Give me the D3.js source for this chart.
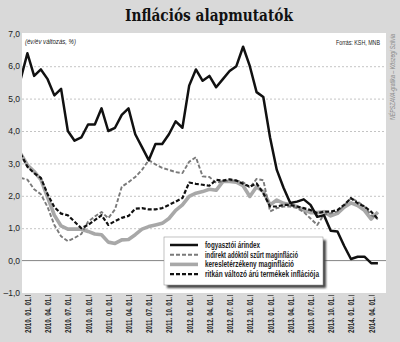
<!DOCTYPE html>
<html><head><meta charset="utf-8">
<script src="https://cdn.jsdelivr.net/npm/d3@7"></script>
<style>body{margin:0;background:#d9d9d9}svg{display:block}</style>
</head><body><svg id="c" width="400" height="342"></svg>
<script>
const months = ["2009.12",
"2010.01","2010.02","2010.03","2010.04","2010.05","2010.06","2010.07","2010.08","2010.09","2010.10","2010.11","2010.12",
"2011.01","2011.02","2011.03","2011.04","2011.05","2011.06","2011.07","2011.08","2011.09","2011.10","2011.11","2011.12",
"2012.01","2012.02","2012.03","2012.04","2012.05","2012.06","2012.07","2012.08","2012.09","2012.10","2012.11","2012.12",
"2013.01","2013.02","2013.03","2013.04","2013.05","2013.06","2013.07","2013.08","2013.09","2013.10","2013.11","2013.12",
"2014.01","2014.02","2014.03","2014.04","2014.05"];
const cpi = [5.6,
6.4,5.7,5.9,5.6,5.1,5.3,4.0,3.7,3.8,4.2,4.2,4.7,
4.0,4.1,4.5,4.7,3.9,3.5,3.1,3.6,3.6,3.9,4.3,4.1,
5.4,5.9,5.55,5.7,5.35,5.6,5.85,6.0,6.6,6.0,5.2,5.05,
3.8,2.8,2.25,1.78,1.82,1.89,1.72,1.35,1.4,0.92,0.9,0.45,
0.05,0.12,0.12,-0.08,-0.08];
const indirekt = [2.55,
2.5,2.2,2.05,1.65,1.1,0.75,0.6,0.7,0.82,1.2,1.36,1.5,
1.31,1.58,2.28,2.42,2.58,2.8,3.1,2.97,2.86,2.8,2.73,2.7,
3.05,3.19,2.6,2.58,2.4,2.45,2.47,2.47,2.42,2.25,2.52,2.48,
1.52,1.62,1.67,1.67,1.62,1.5,1.3,1.1,1.42,1.46,1.52,1.7,
1.93,1.82,1.67,1.4,1.28];
const kereslet = [3.3,
2.95,2.75,2.5,1.95,1.4,1.07,0.97,0.97,0.97,0.9,0.82,0.8,
0.57,0.53,0.64,0.65,0.8,0.97,1.05,1.1,1.15,1.3,1.55,1.72,
1.98,2.08,2.13,2.2,2.17,2.44,2.44,2.42,2.31,1.98,2.28,2.13,
1.72,1.87,1.77,1.72,1.67,1.56,1.48,1.48,1.51,1.38,1.46,1.65,
1.78,1.7,1.55,1.28,1.5];
const ritkan = [3.3,
2.9,2.7,2.55,2.05,1.65,1.45,1.4,1.2,1.0,1.1,1.25,1.4,
1.1,1.22,1.32,1.38,1.6,1.62,1.58,1.58,1.62,1.72,1.82,1.93,
2.41,2.37,2.34,2.31,2.49,2.47,2.51,2.47,2.37,2.28,2.38,2.08,
1.67,1.67,1.72,1.72,1.67,1.62,1.56,1.46,1.51,1.51,1.56,1.72,
1.93,1.77,1.67,1.51,1.28];
const seriesNames = ["fogyasztói árindex","indirekt adóktól szűrt maginfláció","keresletérzékeny maginfláció","ritkán változó árú termékek inflációja"];
const tickMonths = ["2010.01","2010.04","2010.07","2010.10","2011.01","2011.04","2011.07","2011.10","2012.01","2012.04","2012.07","2012.10","2013.01","2013.04","2013.07","2013.10","2014.01","2014.04"];
const tickLabels = ["2010. 01. 01.","2010. 04. 01.","2010. 07. 01.","2010. 10. 01.","2011. 01. 01.","2011. 04. 01.","2011. 07. 01.","2011. 10. 01.","2012. 01. 01.","2012. 04. 01.","2012. 07. 01.","2012. 10. 01.","2013. 01. 01.","2013. 04. 01.","2013. 07. 01.","2013. 10. 01.","2014. 01. 01.","2014. 04. 01."];
const yTicks = [-1,0,1,2,3,4,5,6,7];

const svg = d3.select("#c");
const L=22,R=386,T=33,B=293;
svg.append("rect").attr("width",400).attr("height",342).attr("fill","#d9d9d9");
svg.append("rect").attr("x",L).attr("y",T).attr("width",R-L).attr("height",B-T).attr("fill","#fff");

const x = d3.scaleLinear().domain([0.2, 54.2]).range([L,R]); // index in months array
const y = d3.scaleLinear().domain([-1,7]).range([B,T+0.8]);

// gridlines
const grid = svg.append("g").attr("transform",`translate(${L},0)`)
  .call(d3.axisLeft(y).tickValues([1,2,3,4,5,6]).tickSize(-(R-L)).tickFormat(""));
grid.select(".domain").remove();
grid.selectAll("line").attr("stroke","#b5b5b5").attr("stroke-width",0.8).attr("stroke-dasharray","2,2");
svg.append("line").attr("x1",L).attr("x2",R).attr("y1",y(0)).attr("y2",y(0)).attr("stroke","#777").attr("stroke-width",0.9);

// y axis labels
const fmt = v => (v<0?"\u2013":"") + Math.abs(v).toFixed(1).replace(".",",");
const ya = svg.append("g").attr("transform",`translate(${L-2},0)`)
  .call(d3.axisLeft(y).tickValues(yTicks).tickSize(0).tickPadding(0).tickFormat(fmt));
ya.select(".domain").remove();
ya.selectAll("text").attr("font-family","Liberation Sans Narrow, Liberation Sans, sans-serif").attr("font-size",8.5).attr("fill","#222");

// x axis labels
const xa = svg.append("g").attr("transform",`translate(0,${B})`)
  .call(d3.axisBottom(x).tickValues(tickMonths.map(m=>months.indexOf(m))).tickSize(0)
  .tickFormat((d,i)=>tickLabels[i]));
xa.select(".domain").remove();
xa.selectAll("text").attr("text-anchor","end").attr("transform","translate(0,4) rotate(-90)")
  .attr("x",0).attr("y",0).attr("dy","0.35em").attr("dx",0)
  .attr("font-family","Liberation Sans Narrow, Liberation Sans, sans-serif").attr("font-weight","bold")
  .attr("font-size",8.5).attr("fill","#222").attr("textLength",36).attr("lengthAdjust","spacingAndGlyphs");
xa.selectAll(".tick").append("line").attr("x1",-3).attr("x2",3).attr("y1",2.5).attr("y2",2.5).attr("stroke","#444").attr("stroke-width",0.8);

// clip
svg.append("clipPath").attr("id","clp").append("rect").attr("x",L).attr("y",T).attr("width",R-L).attr("height",B-T);
const line = d3.line().x((d,i)=>x(i)).y(d=>y(d));
const g = svg.append("g").attr("clip-path","url(#clp)");
const styles = [
  {data:kereslet, stroke:"#a8a8a8", w:3.6, dash:null},
  {data:indirekt, stroke:"#7a7a7a", w:1.9, dash:"4,2"},
  {data:ritkan, stroke:"#111", w:2.2, dash:"4,2"},
  {data:cpi, stroke:"#111", w:2.5, dash:null}
];
styles.forEach(s=>{
  g.append("path").datum(s.data).attr("d",line).attr("fill","none").attr("stroke",s.stroke)
   .attr("stroke-width",s.w).attr("stroke-dasharray",s.dash).attr("stroke-linejoin","round");
});

// texts
svg.append("text").attr("x",209).attr("y",21).attr("text-anchor","middle")
  .attr("font-family","DejaVu Serif, serif").attr("font-weight","bold").attr("font-size",16)
  .attr("textLength",168).attr("lengthAdjust","spacingAndGlyphs").attr("fill","#111").text("Inflációs alapmutatók");
svg.append("text").attr("x",25).attr("y",44).attr("font-family","Liberation Sans Narrow, Liberation Sans, sans-serif")
  .attr("font-style","italic").attr("font-size",8).attr("fill","#222").attr("textLength",51).attr("lengthAdjust","spacingAndGlyphs")
  .text("(év/év változás, %)");
svg.append("text").attr("x",380).attr("y",45).attr("text-anchor","end").attr("font-family","Liberation Sans Narrow, Liberation Sans, sans-serif")
  .attr("font-size",7).attr("fill","#222").attr("textLength",44).attr("lengthAdjust","spacingAndGlyphs").text("Forrás: KSH, MNB");
svg.append("text").attr("transform","translate(395,120) rotate(-90)").attr("font-family","Liberation Sans Narrow, Liberation Sans, sans-serif")
  .attr("font-style","italic").attr("font-size",7).attr("fill","#888").attr("textLength",86).attr("lengthAdjust","spacingAndGlyphs")
  .text("NÉPSZAVA-grafika – Kőszegi Szilvia");

// legend
const defs = svg.append("defs");
const f = defs.append("filter").attr("id","blur").attr("x","-10%").attr("y","-10%").attr("width","130%").attr("height","130%");
f.append("feGaussianBlur").attr("stdDeviation",1.2);
const lg = svg.append("g").attr("transform","translate(164,237)");
lg.append("rect").attr("x",3).attr("y",3).attr("width",159).attr("height",48).attr("fill","#444").attr("filter","url(#blur)");
lg.append("rect").attr("width",159).attr("height",48).attr("fill","#fff").attr("stroke","#999").attr("stroke-width",0.6);
const legStyles = [styles[3],styles[1],styles[0],styles[2]];
const legW = [55,93,89,114];
legStyles.forEach((s,i)=>{
  const yy = 8 + i*9.7;
  lg.append("line").attr("x1",6).attr("x2",34).attr("y1",yy).attr("y2",yy).attr("stroke",s.stroke)
    .attr("stroke-width",s.w).attr("stroke-dasharray",s.dash);
  lg.append("text").attr("x",41).attr("y",yy).attr("dy","0.35em").attr("font-family","Liberation Sans Narrow, Liberation Sans, sans-serif")
    .attr("font-weight","bold").attr("font-size",8.5).attr("fill","#222").attr("textLength",legW[i]).attr("lengthAdjust","spacingAndGlyphs")
    .text(seriesNames[i]);
});
</script></body></html>
